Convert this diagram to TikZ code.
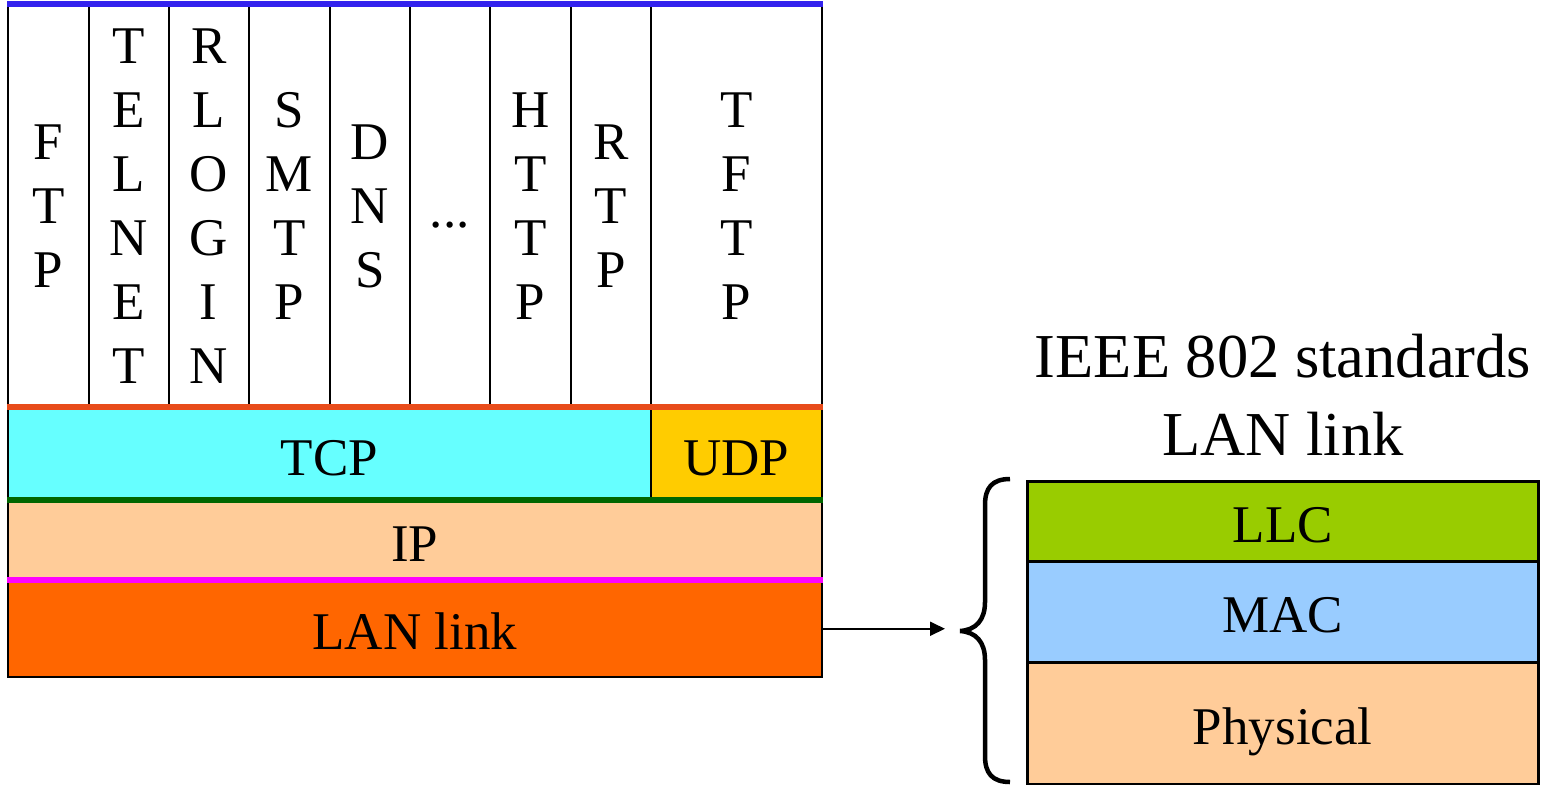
\documentclass[tikz,border=0pt]{standalone}
\usepackage{fontspec}
\setmainfont{Liberation Serif}
\usetikzlibrary{arrows.meta}
\definecolor{cyanL}{HTML}{66FFFF}
\definecolor{udpY}{HTML}{FFCC00}
\definecolor{peach}{HTML}{FFCC99}
\definecolor{lanO}{HTML}{FF6600}
\definecolor{blueL}{HTML}{3322EE}
\definecolor{redL}{HTML}{E84C1A}
\definecolor{greenL}{HTML}{006600}
\definecolor{magL}{HTML}{FF00FF}
\definecolor{llcG}{HTML}{99CC00}
\definecolor{macB}{HTML}{99CCFF}
\begin{document}
\begin{tikzpicture}[x=1pt,y=-1pt,
  txt/.style={font=\fontsize{53}{64}\selectfont},
  colbase/.style={txt, draw=black, line width=1.5pt, fill=white, anchor=north west, inner sep=0pt, minimum height=403pt},
  col/.style={colbase, align=center},
  layer/.style={txt, draw=black, line width=1.5pt, anchor=north west, inner sep=0pt, text height=42pt, text depth=0pt},
  ieee/.style={layer, line width=2.5pt, minimum width=511pt},
  sepline/.style={line width=5.5pt},
  ]
\useasboundingbox (0,0) rectangle (1546,784);
% application columns
\node[col, minimum width=81pt] (ftp) at (7,4) {F\\T\\P};
\node[col, minimum width=80pt] (telnet) at (88,4) {T\\E\\L\\N\\E\\T};
\node[col, minimum width=80pt] (rlogin) at (168,4) {R\\L\\O\\G\\I\\N};
\node[col, minimum width=81pt] (smtp) at (248,4) {S\\M\\T\\P};
\node[col, minimum width=80pt] (dns) at (329,4) {D\\N\\S};
\node[colbase, minimum width=80pt, text height=42pt, text depth=0pt] (dots) at (409,4) {...};
\node[col, minimum width=81pt] (http) at (489,4) {H\\T\\T\\P};
\node[col, minimum width=80pt] (rtp) at (570,4) {R\\T\\P};
\node[col, minimum width=171pt] (tftp) at (650,4) {T\\F\\T\\P};
% transport, network, link
\node[layer, fill=cyanL, minimum width=643pt, minimum height=93pt] (tcp) at (7,407) {TCP};
\node[layer, fill=udpY, minimum width=171pt, minimum height=93pt] (udp) at (650,407) {UDP};
\node[layer, fill=peach, minimum width=814pt, minimum height=80pt] (ip) at (7,500) {IP};
\node[layer, fill=lanO, minimum width=814pt, minimum height=96pt] (lan) at (7,580) {LAN link};
% coloured interface lines
\draw[sepline, blueL] (ftp.north west) -- (tftp.north east);
\draw[sepline, redL] (tcp.north west) -- (udp.north east);
\draw[sepline, greenL] (ip.north west) -- (ip.north east);
\draw[sepline, magL, line width=6pt] (lan.north west) -- (lan.north east);
% IEEE 802 stack
\node[font=\fontsize{62.5}{78}\selectfont, align=center, anchor=south, inner sep=0pt] (title) at (1283,456) {IEEE 802 standards\\LAN link};
\node[ieee, fill=llcG, minimum height=80pt] (llc) at (1026,480) {LLC};
\node[ieee, fill=macB, minimum height=101pt] (mac) at (1026,560) {MAC};
\node[ieee, fill=peach, minimum height=122pt] (phy) at (1026,661) {Physical};
% arrow
\coordinate (arrowend) at (945,628);
\draw[line width=1.8pt, -{Triangle[length=15pt,width=14pt]}] (lan.east) -- (lan.east -| arrowend);
% brace
\draw[line width=4.5pt] (1010,479) .. controls (992,479) and (985,488) .. (985,505)
  -- (985,602) .. controls (985,620) and (976,630) .. (960,631)
  .. controls (976,632) and (985,642) .. (985,660)
  -- (985,756) .. controls (985,773) and (992,782) .. (1010,782);
\end{tikzpicture}
\end{document}
